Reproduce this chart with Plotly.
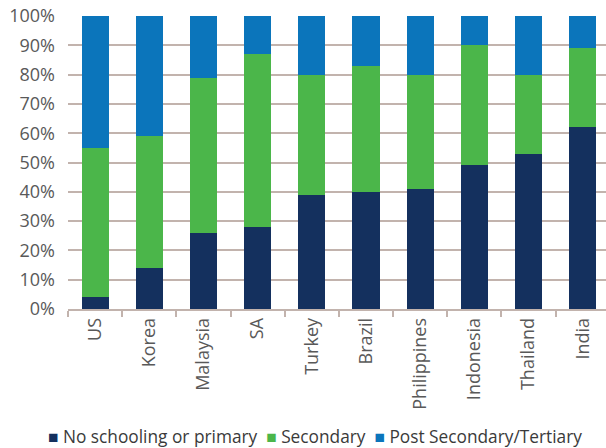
import plotly.graph_objects as go

countries = ["US", "Korea", "Malaysia", "SA", "Turkey", "Brazil",
             "Philippines", "Indonesia", "Thailand", "India"]
primary = [4, 14, 26, 28, 39, 40, 41, 49, 53, 62]
secondary = [51, 45, 53, 59, 41, 43, 39, 41, 27, 27]
tertiary = [45, 41, 21, 13, 20, 17, 20, 10, 20, 11]
y_ticks = [0, 10, 20, 30, 40, 50, 60, 70, 80, 90, 100]
y_labels = [f"{v}%" for v in y_ticks]

series = [
    ("No schooling or primary", primary, "#14305e"),
    ("Secondary", secondary, "#4bb64a"),
    ("Post Secondary/Tertiary", tertiary, "#0b75bb"),
]

fig = go.Figure()
for name, vals, color in series:
    fig.add_trace(go.Bar(x=countries, y=vals, name=name,
                         marker=dict(color=color, line=dict(width=0)),
                         width=0.5, showlegend=False))

# Compact one-line key under the chart
key = "  ".join(
    f"<span style='color:{color}'>■</span> {name}" for name, _, color in series
)
fig.add_annotation(text=key, xref="paper", yref="paper",
                   x=0.459, y=-0.435, xanchor="center", yanchor="middle",
                   showarrow=False,
                   font=dict(family="Open Sans", size=17.3, color="#3a3a3a"))

grid = "#c2b3ad"
fig.update_layout(
    barmode="stack",
    width=606, height=448,
    margin=dict(l=68, r=0, t=16, b=139),
    paper_bgcolor="white", plot_bgcolor="white",
    font=dict(family="Open Sans", size=18, color="#595959"),
    showlegend=False,
)
fig.update_xaxes(
    type="category", range=[-0.5, 9.43], automargin=False,
    tickangle=-90, ticks="outside", tickson="boundaries",
    ticklen=6, tickcolor=grid, tickwidth=1.5,
    showline=True, linecolor=grid, linewidth=1.5,
    showgrid=False,
    tickfont=dict(size=18, color="#595959"),
)
fig.update_yaxes(
    range=[0, 100], tickvals=y_ticks, ticktext=y_labels, automargin=False,
    showgrid=True, gridcolor=grid, gridwidth=1.5,
    zeroline=False, showline=False, ticks="",
    ticklabelstandoff=12,
    tickfont=dict(size=18, color="#595959"),
)

fig.write_html("out.html")
